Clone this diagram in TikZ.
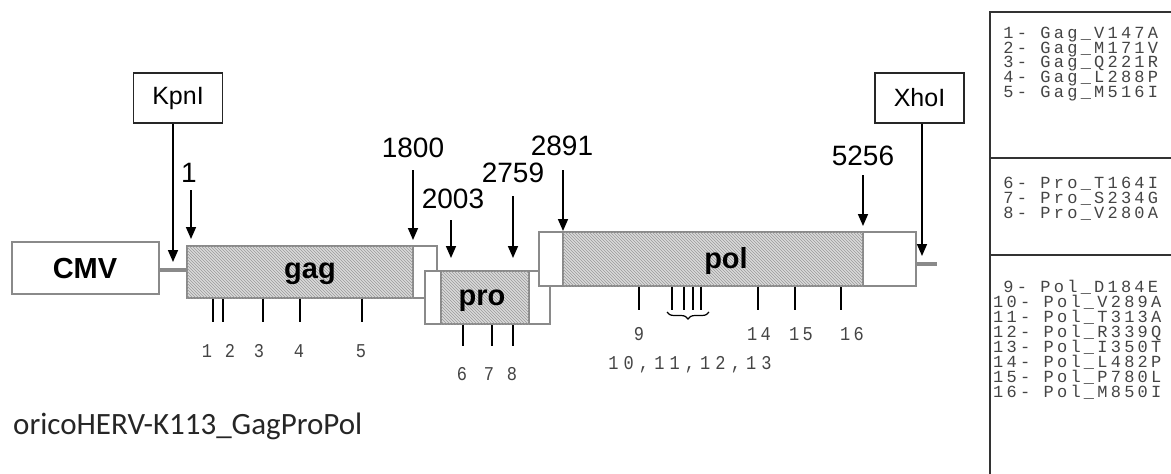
\documentclass[tikz,border=0pt]{standalone}
\usepackage{graphicx}
\usepackage{fontspec}
\setmainfont{Liberation Sans}
\newfontfamily\monof[LetterSpace=19]{Liberation Mono}
\newfontfamily\monow[LetterSpace=30]{Liberation Mono}
\newfontfamily\calib{Carlito}
\usetikzlibrary{arrows.meta,patterns,decorations.pathreplacing}
\definecolor{boxgray}{HTML}{8A8A8A}
\definecolor{hatchbg}{HTML}{DADADA}
\definecolor{hatchln}{HTML}{9A9A9A}
\definecolor{monotxt}{HTML}{444444}
\newcommand\talltext[1]{\scalebox{1}[1.15]{#1}}
\begin{document}
\begin{tikzpicture}[x=1pt,y=-1pt,
  gbox/.style={draw=boxgray, line width=1.5pt, fill=white},
  hatch/.style={draw=boxgray, line width=1.3pt, fill=hatchbg, postaction={pattern=north west lines, pattern color=hatchln}},
  lnk/.style={draw=boxgray, line width=4pt},
  arr/.style={draw=black, line width=1.6pt, -{Triangle[width=10pt,length=12pt]}},
  tick/.style={draw=black, line width=1.6pt},
  poslab/.style={font=\fontsize{28}{28}\selectfont, anchor=base, inner sep=0pt},
  genelab/.style={font=\fontsize{29}{29}\selectfont\bfseries, anchor=base, inner sep=0pt},
  enzbox/.style={draw=black!85, line width=1.5pt, minimum width=89pt, minimum height=50pt, inner sep=0pt, font=\fontsize{25}{25}\selectfont},
  ticklab/.style={font=\monof\fontsize{17}{17}\selectfont, text=monotxt, anchor=base, inner sep=0pt},
  leglab/.style={font=\monof\fontsize{17}{17}\selectfont, text=monotxt, anchor=base west, inner sep=0pt, text height=11pt, text depth=2pt},
  legline/.style={draw=black!80, line width=1.5pt}
]
\useasboundingbox (0,0) rectangle (1171,474);

% --- connecting vector lines
\coordinate (cmvR) at (159,270);
\coordinate (gagL) at (187,270);
\coordinate (polR) at (916,264);
\coordinate (endR) at (937,264);
\draw[lnk] (cmvR) -- (gagL);
\draw[lnk] (polR) -- (endR);

% --- CMV
\node[draw=boxgray, line width=1.5pt, minimum width=147pt, minimum height=52pt, inner sep=0pt] (cmv) at (85.5,268) {};
\node[genelab] (cmvt) at (85,278) {CMV};

% --- gag
\draw[gbox] (187,246) rectangle (437,298);
\draw[hatch] (187,246) rectangle (413,298);
\node[genelab] (gagt) at (310,278) {gag};

% --- pro
\draw[gbox] (425,271) rectangle (550,324);
\draw[hatch] (441,271) rectangle (529,324);
\node[genelab] (prot) at (482,305) {pro};

% --- pol
\draw[gbox] (539,232) rectangle (916,286);
\draw[hatch] (563,232) rectangle (863,286);
\node[genelab] (polt) at (726,268) {pol};

% --- enzyme boxes
\node[enzbox] (kpn) at (178,98) {KpnI};
\node[enzbox] (xho) at (919.5,98) {XhoI};
\coordinate (kpnT) at (173,262);
\coordinate (xhoT) at (922,256);
\draw[arr] (kpnT |- kpn.south) -- (kpnT);
\draw[arr] (xhoT |- xho.south) -- (xhoT);

% --- position labels and arrows
\node[poslab] (p1) at (189,182) {1};
\node[poslab] (p1800) at (413,157) {1800};
\node[poslab] (p2003) at (453,208) {2003};
\node[poslab] (p2759) at (513,182) {2759};
\node[poslab] (p2891) at (562,155) {2891};
\node[poslab] (p5256) at (863,165) {5256};
\coordinate (a1s) at (191,190);    \coordinate (a1e) at (191,239);
\coordinate (a1800s) at (413,170); \coordinate (a1800e) at (413,240);
\coordinate (a2003s) at (451,220); \coordinate (a2003e) at (451,258);
\coordinate (a2759s) at (513,196); \coordinate (a2759e) at (513,258);
\coordinate (a2891s) at (563,170); \coordinate (a2891e) at (563,231);
\coordinate (a5256s) at (863,175); \coordinate (a5256e) at (863,226);
\foreach \n in {1,1800,2003,2759,2891,5256}
  \draw[arr] (a\n s) -- (a\n e);

% --- ticks under gag
\foreach \x/\t in {213/g1,223/g2,263/g3,300/g4,362/g5}
  \draw[tick] (\x,299) coordinate (\t a) -- (\x,322) coordinate (\t b);
\foreach \x/\l/\t in {207/1/ml1,230/2/ml2,259/3/ml3,299/4/ml4,361/5/ml5}
  \node[ticklab] (\t) at (\x,357) {\talltext{\l}};

% --- ticks under pro
\foreach \x/\t in {463/r6,492/r7,513/r8}
  \draw[tick] (\x,325) coordinate (\t a) -- (\x,346) coordinate (\t b);
\foreach \x/\l/\t in {462/6/ml6,489/7/ml7,512/8/ml8}
  \node[ticklab] (\t) at (\x,380) {\talltext{\l}};

% --- ticks under pol
\foreach \x/\t in {639/q9,672/q10,684/q11,693/q12,701/q13,758/q14,795/q15,841/q16}
  \draw[tick] (\x,287) coordinate (\t a) -- (\x,310) coordinate (\t b);
\coordinate (brL) at (667,312);
\coordinate (brR) at (709,312);
\draw[line width=1.2pt, decorate, decoration={brace, amplitude=7pt, mirror}] (brL) -- (brR);
\node[ticklab] (ml9) at (639,340) {\talltext{9}};
\node[ticklab] (ml14) at (759,340) {\talltext{14}};
\node[ticklab] (ml15) at (801,340) {\talltext{15}};
\node[ticklab] (ml16) at (852,340) {\talltext{16}};
\node[ticklab, font=\monow\fontsize{17}{17}\selectfont] (ml10) at (690,369) {\talltext{10,11,12,13}};

% --- caption
\node[font=\calib\fontsize{31}{31}\selectfont, text=black!85, anchor=base west, inner sep=0pt] (cap) at (13,434) {oricoHERV-K113\_GagProPol};

% --- legend
\draw[legline] (1180,12) -- (990,12) -- (990,480);
\draw[legline] (990,158) -- (1180,158);
\draw[legline] (990,255) -- (1180,255);
\foreach \y/\s/\i in {
  38.5/\phantom{1}1- Gag\_V147A/1,
  53.2/\phantom{1}2- Gag\_M171V/2,
  67.9/\phantom{1}3- Gag\_Q221R/3,
  82.6/\phantom{1}4- Gag\_L288P/4,
  97.3/\phantom{1}5- Gag\_M516I/5,
  188.5/\phantom{1}6- Pro\_T164I/6,
  203.5/\phantom{1}7- Pro\_S234G/7,
  218.5/\phantom{1}8- Pro\_V280A/8,
  292.5/\phantom{1}9- Pol\_D184E/9,
  307.5/10- Pol\_V289A/10,
  322.5/11- Pol\_T313A/11,
  337.5/12- Pol\_R339Q/12,
  352.5/13- Pol\_I350T/13,
  367.5/14- Pol\_L482P/14,
  382.5/15- Pol\_P780L/15,
  397.5/16- Pol\_M850I/16}
  \node[leglab] (leg\i) at (993,\y) {\s};
\end{tikzpicture}
\end{document}
